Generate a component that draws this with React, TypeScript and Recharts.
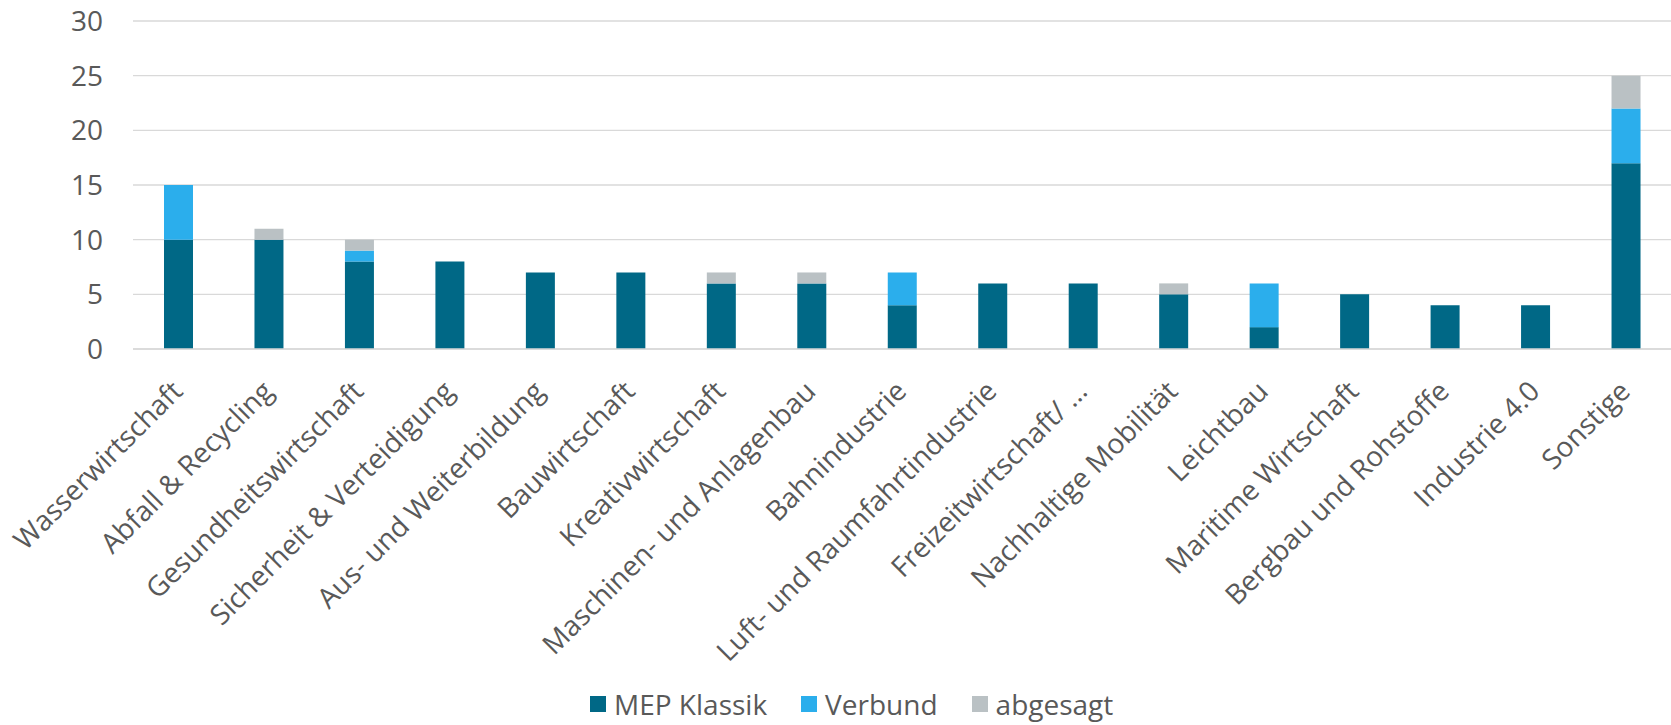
import { Bar, BarChart, CartesianGrid, Legend, XAxis, YAxis } from "recharts";

const categories = [
  "Wasserwirtschaft",
  "Abfall & Recycling",
  "Gesundheitswirtschaft",
  "Sicherheit & Verteidigung",
  "Aus- und Weiterbildung",
  "Bauwirtschaft",
  "Kreativwirtschaft",
  "Maschinen- und Anlagenbau",
  "Bahnindustrie",
  "Luft- und Raumfahrtindustrie",
  "Freizeitwirtschaft/ …",
  "Nachhaltige Mobilität",
  "Leichtbau",
  "Maritime Wirtschaft",
  "Bergbau und Rohstoffe",
  "Industrie 4.0",
  "Sonstige",
];
const mepKlassik = [10, 10, 8, 8, 7, 7, 6, 6, 4, 6, 6, 5, 2, 5, 4, 4, 17];
const verbund = [5, 0, 1, 0, 0, 0, 0, 0, 3, 0, 0, 0, 4, 0, 0, 0, 5];
const abgesagt = [0, 1, 1, 0, 0, 0, 1, 1, 0, 0, 0, 1, 0, 0, 0, 0, 3];
const yTicks = [0, 5, 10, 15, 20, 25, 30];

const data = categories.map((name, i) => ({
  name,
  mep: mepKlassik[i],
  verbund: verbund[i],
  abgesagt: abgesagt[i],
}));

const FONT = "'Open Sans', 'Noto Sans', sans-serif";
const TEXT = "#595959";

function AngledTick({ x, y, payload }: any) {
  const ax = x + 6;
  const ay = y + 36;
  return (
    <text
      x={ax}
      y={ay}
      transform={`rotate(-45 ${ax} ${ay})`}
      textAnchor="end"
      fill={TEXT}
      fontSize={28}
      fontFamily={FONT}
    >
      {payload.value}
    </text>
  );
}

function LegendRow({ payload }: any) {
  return (
    <div style={{ display: "flex", alignItems: "center", fontFamily: FONT, fontSize: 28, color: TEXT }}>
      {(payload || []).map((p: any) => (
        <div key={p.value} style={{ display: "flex", alignItems: "center", marginRight: 34 }}>
          <span style={{ width: 16, height: 16, background: p.color, marginRight: 8, display: "inline-block" }} />
          <span>{p.value}</span>
        </div>
      ))}
    </div>
  );
}

export default function App() {
  return (
    <div style={{ position: "absolute", left: 0, top: 0, background: "#fff" }}>
      <BarChart width={1671} height={725} data={data} margin={{ top: 21, right: 0, left: 0, bottom: 0 }} barSize={29}>
        <CartesianGrid horizontal vertical={false} stroke="#D9D9D9" strokeWidth={1.3} />
        <XAxis
          dataKey="name"
          interval={0}
          height={336}
          tick={<AngledTick />}
          tickLine={false}
          axisLine={{ stroke: "#D9D9D9", strokeWidth: 1.3 }}
        />
        <YAxis
          width={133}
          domain={[0, 30]}
          ticks={yTicks}
          tickLine={false}
          tickSize={0}
          tickMargin={30}
          axisLine={false}
          tick={{ fill: TEXT, fontSize: 28, fontFamily: FONT }}
        />
        <Legend
          verticalAlign="bottom"
          content={<LegendRow />}
          wrapperStyle={{ height: 40, left: 590, width: "auto" }}
        />
        <Bar dataKey="mep" name="MEP Klassik" stackId="a" fill="#006886" isAnimationActive={false} />
        <Bar dataKey="verbund" name="Verbund" stackId="a" fill="#2BAEEC" isAnimationActive={false} />
        <Bar dataKey="abgesagt" name="abgesagt" stackId="a" fill="#BAC1C4" isAnimationActive={false} />
      </BarChart>
    </div>
  );
}
